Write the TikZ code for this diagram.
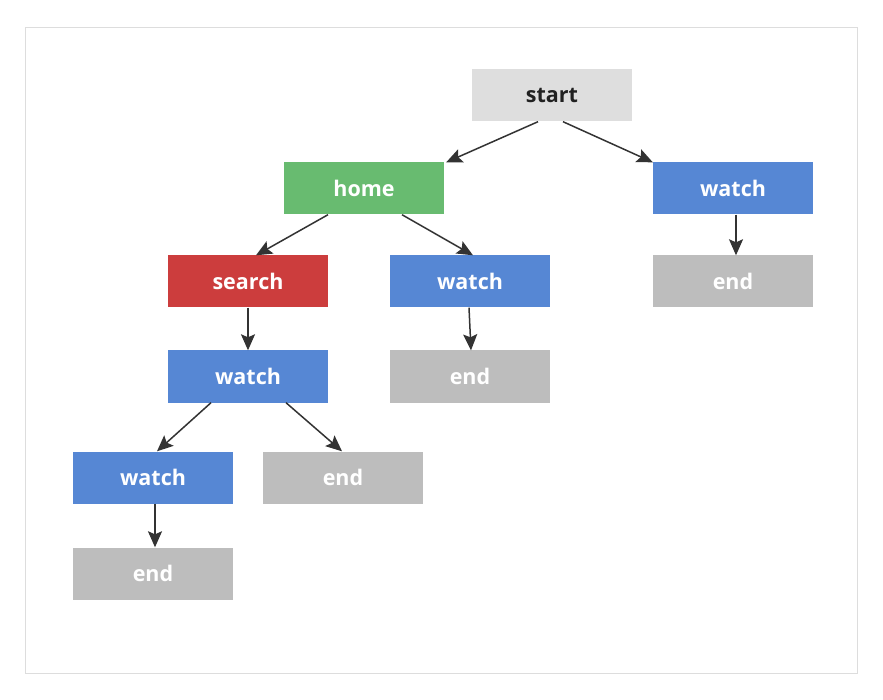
\documentclass[tikz,border=0pt]{standalone}
\usepackage{fontspec}
\setmainfont{Open Sans}
\usetikzlibrary{arrows.meta}
\definecolor{cstart}{HTML}{DEDEDE}
\definecolor{chome}{HTML}{68BB70}
\definecolor{csearch}{HTML}{CC3D3D}
\definecolor{cwatch}{HTML}{5687D4}
\definecolor{cend}{HTML}{BDBDBD}
\definecolor{carrow}{HTML}{333333}
\definecolor{cframe}{HTML}{DDDDDD}
\tikzset{
  box/.style={rectangle, minimum width=160pt, minimum height=52pt, inner sep=0pt,
    font=\fontsize{21.5}{25}\selectfont\bfseries, text=white},
  startbox/.style={box, fill=cstart, text=black!87},
  homebox/.style={box, fill=chome},
  searchbox/.style={box, fill=csearch},
  watchbox/.style={box, fill=cwatch},
  endbox/.style={box, fill=cend},
  conn/.style={draw=carrow, line width=1.5pt,
    -{Stealth[length=16pt, width=14pt, inset=3pt]}, shorten >=0pt}
}
\begin{document}
\begin{tikzpicture}[x=1pt, y=-1pt]
\useasboundingbox (0,0) rectangle (883,700);
\fill[white] (0,0) rectangle (883,700);
\draw[cframe, line width=1pt] (25,28) rectangle (857,673);

\node[startbox]  (start)  at (552,95.5)  {start};
\node[homebox]   (home)   at (364,188.5) {home};
\node[watchbox]  (watchR) at (733,188.5) {watch};
\node[endbox]    (endR)   at (733,281.5) {end};
\node[searchbox] (search) at (248,281.5) {search};
\node[watchbox]  (watchM) at (470,281.5) {watch};
\node[endbox]    (endM)   at (470,376.5) {end};
\node[watchbox]  (watchB) at (248,376.5) {watch};
\node[watchbox]  (watchL) at (153,477.5) {watch};
\node[endbox]    (endC)   at (343,477.5) {end};
\node[endbox]    (endL)   at (153,573.5) {end};

\draw[conn] ([xshift=-14pt]start.south) -- ([xshift=2pt]home.north east);
\draw[conn] ([xshift=11pt]start.south) -- (watchR.north west);
\draw[conn] ([xshift=-36pt]home.south) -- ([xshift=8pt]search.north);
\draw[conn] ([xshift=38pt]home.south) -- ([xshift=3pt]watchM.north);
\draw[conn] (search.south) -- (watchB.north);
\draw[conn] ([xshift=-1pt]watchM.south) -- ([xshift=1pt]endM.north);
\draw[conn] ([xshift=3pt]watchR.south) -- ([xshift=3pt]endR.north);
\draw[conn] ([xshift=-37pt]watchB.south) -- ([xshift=4pt]watchL.north);
\draw[conn] ([xshift=38pt]watchB.south) -- ([xshift=-1pt]endC.north);
\draw[conn] ([xshift=2pt]watchL.south) -- ([xshift=2pt]endL.north);
\end{tikzpicture}
\end{document}
